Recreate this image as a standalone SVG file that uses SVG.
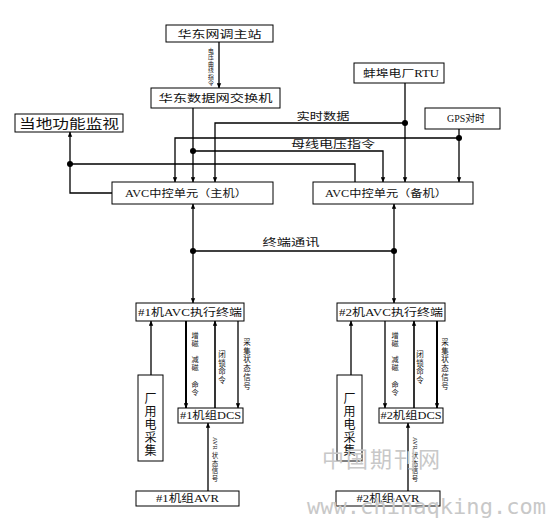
<svg xmlns="http://www.w3.org/2000/svg" width="546" height="518" viewBox="0 0 546 518">
<defs>
<marker id="ah" viewBox="0 0 8 8" refX="7.5" refY="4" markerWidth="5" markerHeight="5" orient="auto" markerUnits="userSpaceOnUse">
<path d="M0,0.5 L8,4 L0,7.5 z" fill="#000"/>
</marker>
<style>
.box{fill:#fff;stroke:#000;stroke-width:1}
.t{font-family:"Liberation Serif","Noto Sans CJK SC",serif;font-size:10px;fill:#111;text-anchor:middle}
.vt{font-family:"Liberation Serif","Noto Sans CJK SC",serif;font-size:7.5px;fill:#111;text-anchor:middle}
.ln{fill:none;stroke:#000;stroke-width:1.3}
.ar{marker-end:url(#ah)}
.dot{fill:#000}
.wm{fill:#c8c8c8}
</style>
</defs>
<rect width="546" height="518" fill="#fff"/>

<g id="connectors">
<path class="ln ar" d="M219,42 V88"/>
<path class="ln ar" d="M193,108 V182"/>
<path class="ln ar" d="M193,151 H383 V182"/>
<path class="ln ar" d="M405,83 V182"/>
<path class="ln ar" d="M405,123 H215 V182"/>
<path class="ln ar" d="M459,129 V182"/>
<path class="ln ar" d="M459,138 H175 V182"/>
<path class="ln" d="M355,182 V164 H70 V193 H112"/>
<path class="ln ar" d="M70,164 V132"/>
<path class="ln ar" d="M193,251 V204"/>
<path class="ln ar" d="M193,251 V303"/>
<path class="ln ar" d="M394,251 V204"/>
<path class="ln ar" d="M394,251 V303"/>
<path class="ln" d="M193,251 H394"/>
<path class="ln ar" d="M151,375 V321"/>
<path class="ln ar" d="M186,321 V408" style="stroke-width:2"/>
<path class="ln ar" d="M215,408 V321" style="stroke-width:1.6"/>
<path class="ln ar" d="M238,321 V408"/>
<path class="ln ar" d="M208,491 V423"/>
<path class="ln ar" d="M351,375 V321"/>
<path class="ln ar" d="M385,321 V408"/>
<path class="ln ar" d="M414,408 V321" style="stroke-width:1.6"/>
<path class="ln ar" d="M437,321 V408" style="stroke-width:2"/>
<path class="ln ar" d="M408,491 V423"/>
<circle class="dot" cx="193" cy="151" r="3"/>
<circle class="dot" cx="405" cy="123" r="3"/>
<circle class="dot" cx="459" cy="138" r="3"/>
<circle class="dot" cx="70" cy="164" r="3"/>
<circle class="dot" cx="193" cy="251" r="3"/>
<circle class="dot" cx="394" cy="251" r="3"/>

<text class="vt" style="font-size:5.8px"><tspan x="211" y="53">电</tspan><tspan x="211" y="59.4">压</tspan><tspan x="211" y="65.8">曲</tspan><tspan x="211" y="72.2">线</tspan><tspan x="211" y="78.6">指</tspan><tspan x="211" y="85">令</tspan></text>
<text class="t" x="323" y="120" textLength="53" lengthAdjust="spacingAndGlyphs">实时数据</text>
<text class="t" x="333" y="148" textLength="84" lengthAdjust="spacingAndGlyphs">母线电压指令</text>
<text class="t" x="291" y="246" textLength="57" lengthAdjust="spacingAndGlyphs">终端通讯</text>

<text class="vt" style="font-size:7.2px"><tspan x="195" y="338">增</tspan><tspan x="195" y="346">磁</tspan><tspan x="195" y="362">减</tspan><tspan x="195" y="370">磁</tspan><tspan x="195" y="387">命</tspan><tspan x="195" y="395">令</tspan></text>
<text class="vt"><tspan x="222" y="357">闭</tspan><tspan x="222" y="365.5">锁</tspan><tspan x="222" y="374">命</tspan><tspan x="222" y="382.5">令</tspan></text>
<text class="vt"><tspan x="247" y="345">采</tspan><tspan x="247" y="353.7">集</tspan><tspan x="247" y="362.4">状</tspan><tspan x="247" y="371.1">态</tspan><tspan x="247" y="379.8">信</tspan><tspan x="247" y="388.5">号</tspan></text>
<text class="vt" style="font-size:6.5px;text-anchor:start" transform="translate(213,437) rotate(90)">AVR</text>
<text class="vt" style="font-size:6.5px"><tspan x="215" y="458">状</tspan><tspan x="215" y="465.5">态</tspan><tspan x="215" y="473">信</tspan><tspan x="215" y="480.5">号</tspan></text>

<text class="vt" style="font-size:7.2px"><tspan x="395" y="338">增</tspan><tspan x="395" y="346">磁</tspan><tspan x="395" y="362">减</tspan><tspan x="395" y="370">磁</tspan><tspan x="395" y="387">命</tspan><tspan x="395" y="395">令</tspan></text>
<text class="vt"><tspan x="420" y="357">闭</tspan><tspan x="420" y="365.5">锁</tspan><tspan x="420" y="374">命</tspan><tspan x="420" y="382.5">令</tspan></text>
<text class="vt"><tspan x="445" y="345">采</tspan><tspan x="445" y="353.7">集</tspan><tspan x="445" y="362.4">状</tspan><tspan x="445" y="371.1">态</tspan><tspan x="445" y="379.8">信</tspan><tspan x="445" y="388.5">号</tspan></text>
<text class="vt" style="font-size:6.5px;text-anchor:start" transform="translate(413,437) rotate(90)">AVR</text>
<text class="vt" style="font-size:6.5px"><tspan x="415" y="458">状</tspan><tspan x="415" y="465.5">态</tspan><tspan x="415" y="473">信</tspan><tspan x="415" y="480.5">号</tspan></text>
</g>

<g id="n_dispatch"><rect class="box" x="166" y="25" width="107" height="17"/><text class="t" x="219.5" y="37.5" textLength="84" lengthAdjust="spacingAndGlyphs">华东网调主站</text></g>
<g id="n_switch"><rect class="box" x="151" y="88" width="129" height="20"/><text class="t" x="215.5" y="102" textLength="114" lengthAdjust="spacingAndGlyphs">华东数据网交换机</text></g>
<g id="n_monitor"><rect class="box" x="15" y="114" width="108" height="18"/><text class="t" x="69" y="128" style="font-size:13px" textLength="100" lengthAdjust="spacingAndGlyphs">当地功能监视</text></g>
<g id="n_rtu"><rect class="box" x="354" y="63" width="90" height="20"/><text class="t" x="401" y="77" textLength="76" lengthAdjust="spacingAndGlyphs">蚌埠电厂RTU</text></g>
<g id="n_gps"><rect class="box" x="425" y="108" width="75" height="21"/><text class="t" x="466" y="122" textLength="38" lengthAdjust="spacingAndGlyphs">GPS对时</text></g>
<g id="n_avc_main"><rect class="box" x="112" y="182" width="161" height="22"/><text class="t" x="186" y="197" textLength="122" lengthAdjust="spacingAndGlyphs">AVC中控单元（主机）</text></g>
<g id="n_avc_backup"><rect class="box" x="313" y="182" width="160" height="22"/><text class="t" x="386" y="197" textLength="122" lengthAdjust="spacingAndGlyphs">AVC中控单元（备机）</text></g>
<g id="n_term1"><rect class="box" x="136" y="303" width="108" height="18"/><text class="t" x="190" y="316" textLength="104" lengthAdjust="spacingAndGlyphs">#1机AVC执行终端</text></g>
<g id="n_term2"><rect class="box" x="337" y="303" width="108" height="18"/><text class="t" x="391" y="316" textLength="104" lengthAdjust="spacingAndGlyphs">#2机AVC执行终端</text></g>
<g id="n_power1"><rect class="box" x="138" y="375" width="25" height="86"/><text class="vt" style="font-size:12px"><tspan x="150.5" y="403">厂</tspan><tspan x="150.5" y="416">用</tspan><tspan x="150.5" y="429">电</tspan><tspan x="150.5" y="442">采</tspan><tspan x="150.5" y="455">集</tspan></text></g>
<g id="n_power2"><rect class="box" x="337" y="375" width="25" height="86"/><text class="vt" style="font-size:12px"><tspan x="349.5" y="403">厂</tspan><tspan x="349.5" y="416">用</tspan><tspan x="349.5" y="429">电</tspan><tspan x="349.5" y="442">采</tspan><tspan x="349.5" y="455">集</tspan></text></g>
<g id="n_dcs1"><rect class="box" x="178" y="408" width="65" height="15"/><text class="t" x="210.5" y="419" textLength="61" lengthAdjust="spacingAndGlyphs">#1机组DCS</text></g>
<g id="n_dcs2"><rect class="box" x="379" y="408" width="64" height="15"/><text class="t" x="411" y="419" textLength="61" lengthAdjust="spacingAndGlyphs">#2机组DCS</text></g>
<g id="n_avr1"><rect class="box" x="136" y="491" width="103" height="15"/><text class="t" x="187.5" y="502" textLength="63" lengthAdjust="spacingAndGlyphs">#1机组AVR</text></g>
<g id="n_avr2"><rect class="box" x="336" y="491" width="104" height="15"/><text class="t" x="388" y="502" textLength="63" lengthAdjust="spacingAndGlyphs">#2机组AVR</text></g>

<g id="watermark">
<text class="wm" x="322" y="467" style="font-family:'Noto Sans CJK SC',sans-serif;font-size:22px" textLength="118">中国期刊网</text>
<text class="wm" x="307" y="514" style="font-family:'DejaVu Sans Mono',monospace;font-size:22px" textLength="239">www.chinaqking.com</text>
</g>
</svg>
